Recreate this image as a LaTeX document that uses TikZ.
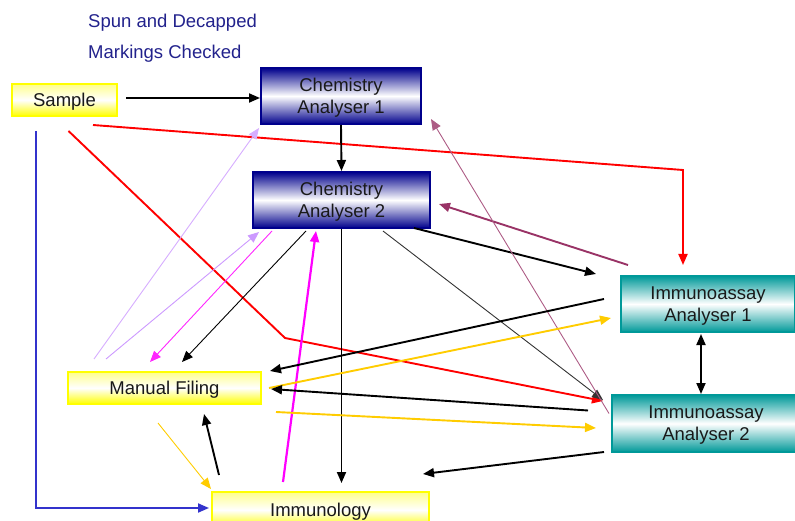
\documentclass[tikz,border=0pt]{standalone}
\usepackage{fontspec}
\setmainfont{Liberation Sans}
\usetikzlibrary{arrows.meta,calc}
\definecolor{navytext}{RGB}{34,34,140}
\definecolor{boxyellow}{RGB}{255,255,0}
\definecolor{chemblue}{RGB}{0,0,140}
\definecolor{immteal}{RGB}{0,153,153}
\definecolor{gold}{RGB}{255,204,0}
\definecolor{lavender}{RGB}{204,153,255}
\definecolor{plum}{RGB}{153,51,102}
\definecolor{pathblue}{RGB}{51,51,204}
\definecolor{pinkarr}{RGB}{255,0,255}
\begin{document}
\begin{tikzpicture}[x=1pt,y=-1pt,
    box/.style={draw,line width=2pt,text=black!90,align=center,inner sep=0pt,
      text depth=0pt,font=\fontsize{18.5}{22}\selectfont},
    yelbox/.style={box,minimum height=32pt,draw=boxyellow,top color=boxyellow!45,
      bottom color=boxyellow,middle color=white},
    chembox/.style={box,minimum height=56pt,draw=chemblue,top color=chemblue,
      bottom color=chemblue,middle color=white},
    immbox/.style={box,minimum height=56pt,draw=immteal,top color=immteal,
      bottom color=immteal,middle color=white},
    note/.style={anchor=west,inner sep=0pt,text=navytext,font=\fontsize{18.5}{22}\selectfont},
    arr/.style={-{Triangle[length=11pt,width=9pt]},line width=1.9pt},
    thinarr/.style={arr,line width=0.9pt}]
    \useasboundingbox (0,0) rectangle (795,521);
    % labels and boxes
    \node[note] (spun) at (88,23) {Spun and Decapped};
    \node[note] (marks) at (88,54) {Markings Checked};
    \node[yelbox,minimum width=105pt] (sample) at (64.5,100) {Sample};
    \node[chembox,minimum width=160pt] (ca1) at (341,96) {Chemistry\\Analyser 1};
    \node[chembox,minimum width=177pt] (ca2) at (341.5,200) {Chemistry\\Analyser 2};
    \node[immbox,minimum width=174pt] (ia1) at (708,304) {Immunoassay\\Analyser 1};
    \node[immbox,minimum width=188pt,minimum height=57pt] (ia2) at (706,423.5) {Immunoassay\\Analyser 2};
    \node[yelbox,minimum width=193pt] (mf) at (164.5,388) {Manual Filing};
    \node[yelbox,minimum width=217pt,minimum height=36pt] (imm) at (320.5,510) {Immunology};
    % sample routes
    \draw[arr] ($(sample.east)+(8,-2)$) -- ($(ca1.west)+(0,2)$);
    \draw[arr,pathblue] ($(sample.south west)+(25,14)$) |- ($(imm.west)+(-2,-2)$);
    \draw[arr,red] ($(sample.south east)+(-25,8)$) -- ($(ia1.north)+(-25,-105)$) -- ($(ia1.north)+(-25,-10)$);
    \draw[arr,red] ($(sample.south)+(4,14)$) -- ($(mf.north east)+(23,-33)$) -- ($(ia2.north west)+(-8,7)$);
    % chemistry
    \draw[arr] (ca1.south) -- (ca2.north);
    \draw[arr] (ca2.south) -- ($(ca2.south |- imm.north)+(0,-8)$);
    \draw[arr] ($(ca2.south east)+(-17,-1)$) -- ($(ia1.north west)+(-24,-1)$);
    \draw[thinarr,black!80] ($(ca2.south)+(41.5,2)$) -- ($(ia2.north west)+(-8,6)$);
    \draw[thinarr,black] ($(ca2.south west)+(54,2)$) -- ($(mf.north)+(17.5,-9)$);
    \draw[thinarr,pinkarr!85] ($(ca2.south west)+(20,2)$) -- ($(mf.north)+(-14.5,-9)$);
    \draw[thinarr,lavender!80] ($(mf.north west)+(27,-12)$) -- ($(ca1.south west)+(-1,3)$);
    \draw[thinarr,lavender] ($(mf.north west)+(39,-12)$) -- ($(ca2.south west)+(7,3)$);
    \draw[arr,pinkarr,line width=2.2pt] ($(imm.north west)+(72,-9)$) -- ($(ca2.south)+(-25.5,2)$);
    % immunoassay
    \draw[arr,plum] ($(ia1.north west)+(8,-10)$) -- ($(ca2.east)+(8,4)$);
    \draw[thinarr,plum!80] ($(ia2.west)+(-2,-10)$) -- ($(ca1.south east)+(9,-6)$);
    \draw[arr] ($(ia1.west)+(-16,-5)$) -- ($(mf.north east)+(8,0)$);
    \draw[arr,gold] ($(mf.east)+(7,0)$) -- ($(ia1.west)+(-9,14)$);
    \draw[arr] ($(ia2.west)+(-23,-13)$) -- ($(mf.east)+(9,1)$);
    \draw[arr,gold] ($(mf.south east)+(14,7)$) -- ($(ia2.west)+(-15,4.5)$);
    \draw[arr] ($(ia2.south west)+(-7,-1)$) -- ($(imm.north east)+(-7,-17)$);
    \draw[arr,{Triangle[length=11pt,width=9pt]}-{Triangle[length=11pt,width=9pt]}] ($(ia1.south)+(-7,1)$) -- ($(ia2.north)+(-5,0)$);
    % filing and immunology
    \draw[thinarr,gold] ($(mf.south)+(-6.5,18)$) -- ($(imm.north west)+(0,-2)$);
    \draw[arr] ($(imm.north west)+(8,-16)$) -- ($(mf.south)+(39.5,9)$);
\end{tikzpicture}
\end{document}
